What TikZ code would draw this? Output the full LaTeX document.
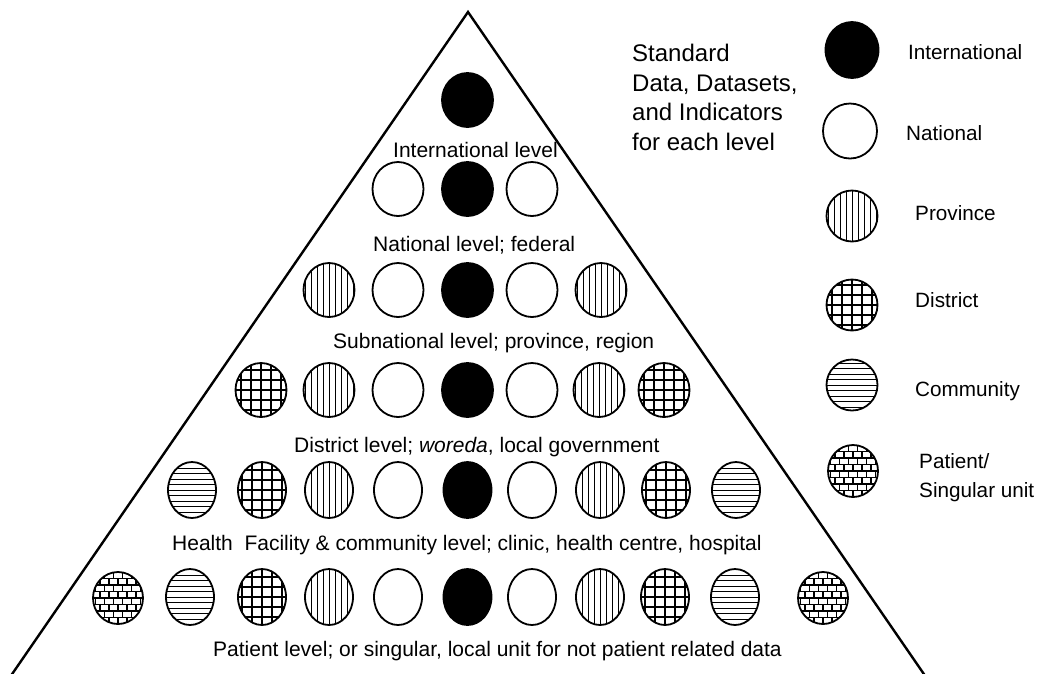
\documentclass[tikz,border=0pt]{standalone}
\usepackage{fontspec}
\setmainfont{Liberation Sans}
\usetikzlibrary{calc,positioning,shapes.geometric}
\tikzstyle{level} = [draw,ellipse,line width=1.8pt,inner sep=0pt,minimum width=51pt,minimum height=54pt]
\tikzstyle{tall}  = [minimum width=48pt,minimum height=56pt]
\tikzstyle{intl}  = [level,fill=black]
\tikzstyle{natl}  = [level,fill=white]
\tikzstyle{prov}  = [level,path picture={
    \foreach \d in {-24,-18,...,24}
      \draw[line width=1pt] ([xshift=\d pt]path picture bounding box.north) -- ([xshift=\d pt]path picture bounding box.south);}]
\tikzstyle{dist}  = [level,path picture={
    \foreach \d in {-20,-10,...,20} {
      \draw[line width=1.8pt] ([xshift=\d pt]path picture bounding box.north) -- ([xshift=\d pt]path picture bounding box.south);
      \draw[line width=1.8pt] ([yshift=\d pt]path picture bounding box.west) -- ([yshift=\d pt]path picture bounding box.east);}}]
\tikzstyle{comm}  = [level,path picture={
    \foreach \d in {-22,-16.5,...,22}
      \draw[line width=1pt] ([yshift=\d pt]path picture bounding box.west) -- ([yshift=\d pt]path picture bounding box.east);}]
\tikzstyle{pat}   = [level,minimum width=50pt,minimum height=52pt,path picture={
    \foreach \d in {-26,-19.5,...,26}
      \draw[line width=1.2pt] ([yshift=\d pt]path picture bounding box.west) -- ([yshift=\d pt]path picture bounding box.east);
    \foreach \dy/\sh in {-26/0,-19.5/4.5,-13/0,-6.5/4.5,0/0,6.5/4.5,13/0,19.5/4.5}
      \foreach \k in {-3,...,3} {
        \pgfmathsetmacro\dx{\k*9+\sh}
        \draw[line width=1.2pt] ([xshift=\dx pt,yshift=\dy pt]path picture bounding box.center) -- ++(0,6.5pt);}}]
\tikzstyle{lbl}   = [font=\fontsize{21}{24}\selectfont,inner sep=0pt,anchor=base west]
\tikzstyle{key}   = [font=\fontsize{20.7}{29}\selectfont,inner sep=0pt,anchor=west,align=left]
\begin{document}
\begin{tikzpicture}[x=1pt,y=-1pt]
  \useasboundingbox (0,0) rectangle (1040,673);
  \coordinate (apex) at (468,12);
  \coordinate (bl) at (8,680);
  \coordinate (br) at (928,680);
  \draw[line width=2.4pt] (bl) -- (apex) -- (br);

  % levels of the pyramid
  \node (r1c1)[intl] at (467.5,100) {};
  \foreach \x/\k [count=\i] in {398/natl,467.5/intl,532/natl}
    \node (r2c\i)[\k] at (\x,189) {};
  \foreach \x/\k [count=\i] in {329/prov,398/natl,467.5/intl,532/natl,601/prov}
    \node (r3c\i)[\k] at (\x,290) {};
  \foreach \x/\k [count=\i] in {261/dist,329/prov,398/natl,467.5/intl,532/natl,599/prov,664/dist}
    \node (r4c\i)[\k] at (\x,390) {};
  \foreach \x/\k [count=\i] in {192/comm,262/dist,329/prov,398/natl,467.5/intl,532/natl,600/prov,666/dist,736/comm}
    \node (r5c\i)[\k,tall] at (\x,490) {};
  \foreach \x/\k [count=\i] in {190/comm,262/dist,329/prov,398/natl,467.5/intl,532/natl,600/prov,665/dist,735/comm}
    \node (r6c\i)[\k,tall] at (\x,597) {};
  \node (r6l)[pat] at (118,598) {};
  \node (r6r)[pat] at (823,598) {};

  \node (t1)[lbl] at (393,157) {International level};
  \node (t2)[lbl] at (373,251) {National level; federal};
  \node (t3)[lbl] at (333,348) {Subnational level; province, region};
  \node (t4)[lbl] at (294,452) {District level; \textit{woreda}, local government};
  \node (t5)[lbl] at (172,550) {Health~ Facility \& community level; clinic, health centre, hospital};
  \node (t6)[lbl] at (213,656) {Patient level; or singular, local unit for not patient related data};

  % legend
  \node (title)[inner sep=0pt,anchor=north west,align=left,font=\fontsize{24}{29.5}\selectfont] at (632,44)
    {Standard\\Data, Datasets,\\and Indicators\\for each level};
  \node (kintl)[intl,minimum width=53pt,minimum height=56pt] at (852,50) {};
  \node (knatl)[natl,minimum width=54pt,minimum height=55pt] at (850,131) {};
  \node (kprov)[prov,minimum height=51pt] at (852,216) {};
  \node (kdist)[dist,minimum height=51pt] at (852,305) {};
  \node (kcomm)[comm,minimum height=51pt] at (852,385) {};
  \node (kpat)[pat] at (853,471) {};
  \node (lintl)[key] at (908,52) {International};
  \node (lnatl)[key] at (906,133) {National};
  \node (lprov)[key] at (915,213) {Province};
  \node (ldist)[key] at (915,300) {District};
  \node (lcomm)[key] at (915,391) {Community};
  \node (lpat)[key] at (919,478) {Patient/\\Singular unit};
\end{tikzpicture}
\end{document}
